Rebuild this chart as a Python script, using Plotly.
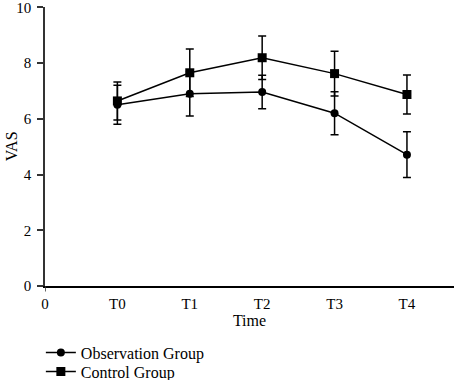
import plotly.graph_objects as go

categories = ["T0", "T1", "T2", "T3", "T4"]
x_pos = [1, 2, 3, 4, 5]
obs_mean = [6.50, 6.90, 6.96, 6.20, 4.71]
obs_err = [0.70, 0.80, 0.60, 0.77, 0.82]
ctrl_mean = [6.64, 7.65, 8.19, 7.62, 6.87]
ctrl_err = [0.68, 0.85, 0.78, 0.80, 0.70]
y_ticks = [0, 2, 4, 6, 8, 10]

family = "Liberation Serif, Times New Roman, serif"
font = dict(family=family, size=15, color="black")
legend_font = dict(family=family, size=16, color="black")

fig = go.Figure()
fig.add_trace(go.Scatter(
    x=x_pos, y=obs_mean, name="Observation Group", mode="lines+markers",
    line=dict(color="black", width=1.5),
    marker=dict(symbol="circle", size=8, color="black"),
    error_y=dict(type="data", array=obs_err, color="black", thickness=1.5, width=4),
    legend="legend",
))
fig.add_trace(go.Scatter(
    x=x_pos, y=ctrl_mean, name="Control Group", mode="lines+markers",
    line=dict(color="black", width=1.5),
    marker=dict(symbol="square", size=9, color="black"),
    error_y=dict(type="data", array=ctrl_err, color="black", thickness=1.5, width=4),
    legend="legend2",
))

fig.update_layout(
    width=454, height=380,
    margin=dict(l=45, r=0, t=7, b=94, autoexpand=False),
    paper_bgcolor="white", plot_bgcolor="white",
    font=font,
    showlegend=True,
    legend=dict(x=0.09, y=0.117, xref="container", yref="container",
                xanchor="left", yanchor="top",
                bgcolor="rgba(0,0,0,0)", font=legend_font, itemsizing="trace"),
    legend2=dict(x=0.09, y=0.067, xref="container", yref="container",
                 xanchor="left", yanchor="top",
                 bgcolor="rgba(0,0,0,0)", font=legend_font, itemsizing="trace"),
)
fig.update_xaxes(
    range=[0, 5.65], tickvals=[0] + x_pos, ticktext=["0"] + categories,
    showline=True, linecolor="black", linewidth=1.5, ticks="", ticklabelstandoff=3,
    showgrid=False, zeroline=False,
    title=dict(text="Time", standoff=3, font=dict(family=family, size=16, color="black")),
)
fig.update_yaxes(
    range=[0, 10.01], tickvals=y_ticks, showline=True, linecolor="#333333", linewidth=1.5,
    ticks="outside", ticklen=6, tickwidth=1.5, tickcolor="#333333", ticklabelstandoff=3,
    ticklabeloverflow="allow",
    showgrid=False, zeroline=False,
)
fig.add_annotation(text="VAS", xref="paper", yref="paper", x=-0.081, y=0.5,
                   textangle=-90, showarrow=False, xanchor="center", yanchor="middle",
                   font=dict(family=family, size=16, color="black"))
fig.add_shape(type="line", xref="x", yref="paper", x0=0, x1=0, y0=0, y1=-0.02,
              line=dict(color="#333333", width=1.5))

fig.write_html("out.html", config={"displayModeBar": False},
               post_script="document.body.style.margin='0';")
